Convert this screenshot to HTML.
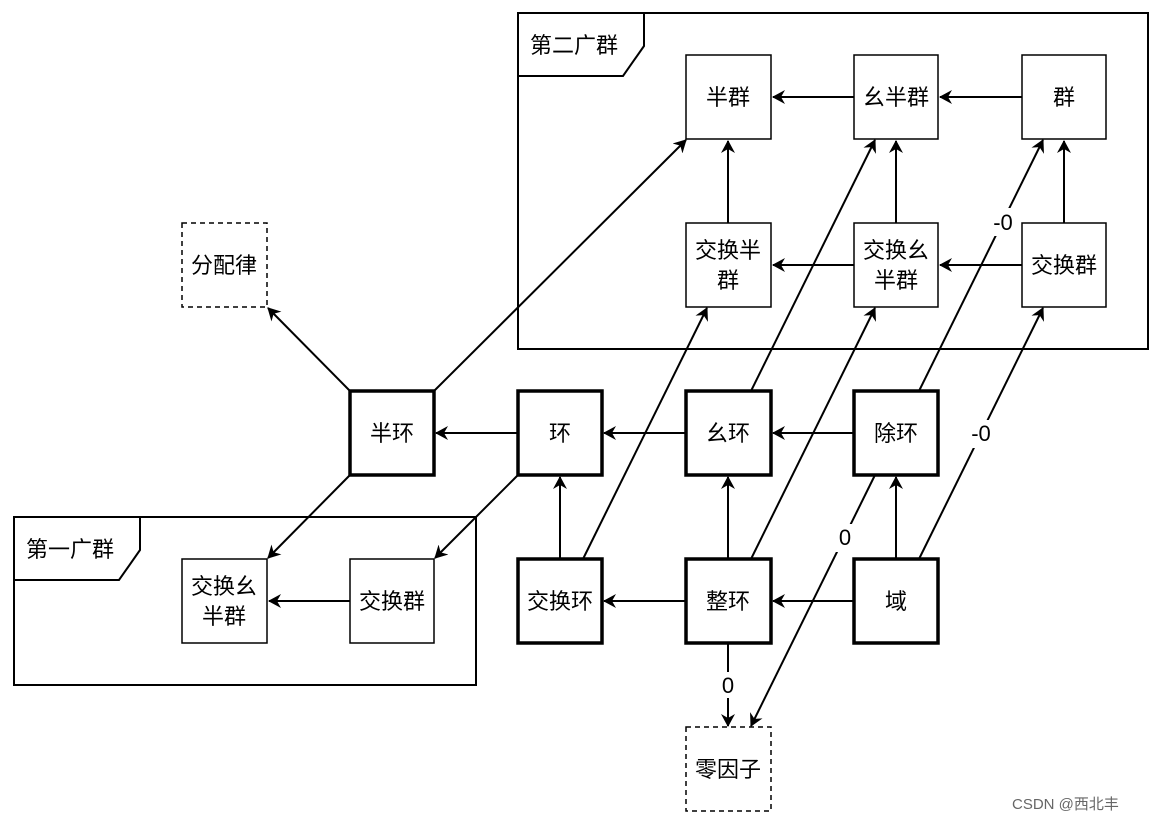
<!DOCTYPE html>
<html><head><meta charset="utf-8"><style>
body{margin:0;background:#fff}
text{font-family:"Liberation Sans","Noto Sans CJK SC",sans-serif;font-size:22px;fill:#000}
</style></head><body>
<svg width="1159" height="821" xmlns="http://www.w3.org/2000/svg">
<defs><marker id="a" markerWidth="14" markerHeight="14" refX="12" refY="7" orient="auto" markerUnits="userSpaceOnUse"><path d="M0,0 L13,7 L0,14 L4,7 Z" fill="#000"/></marker></defs>
<g fill="none" stroke="#000" stroke-width="2">
<rect x="518" y="13" width="630" height="336"/>
<path d="M518,76 L623,76 L644,46 L644,13"/>
<rect x="14" y="517" width="462" height="168"/>
<path d="M14,580 L119,580 L140,550 L140,517"/>
</g>
<g fill="#fff" stroke="#000" stroke-width="1.5">
<rect x="686" y="55" width="85" height="84"/>
<rect x="854" y="55" width="84" height="84"/>
<rect x="1022" y="55" width="84" height="84"/>
<rect x="686" y="223" width="85" height="84"/>
<rect x="854" y="223" width="84" height="84"/>
<rect x="1022" y="223" width="84" height="84"/>
<rect x="182" y="559" width="85" height="84"/>
<rect x="350" y="559" width="84" height="84"/>
<rect x="182" y="223" width="85" height="84" stroke-dasharray="5,4"/>
<rect x="686" y="727" width="85" height="84" stroke-dasharray="5,4"/>
</g>
<g fill="#fff" stroke="#000" stroke-width="3.5">
<rect x="350" y="391" width="84" height="84"/>
<rect x="518" y="391" width="84" height="84"/>
<rect x="686" y="391" width="85" height="84"/>
<rect x="854" y="391" width="84" height="84"/>
<rect x="518" y="559" width="84" height="84"/>
<rect x="686" y="559" width="85" height="84"/>
<rect x="854" y="559" width="84" height="84"/>
</g>
<g stroke="#000" stroke-width="2" fill="none" marker-end="url(#a)">
<line x1="854" y1="97" x2="773" y2="97"/>
<line x1="1022" y1="97" x2="940" y2="97"/>
<line x1="854" y1="265" x2="773" y2="265"/>
<line x1="1022" y1="265" x2="940" y2="265"/>
<line x1="728" y1="223" x2="728" y2="141"/>
<line x1="896" y1="223" x2="896" y2="141"/>
<line x1="1064" y1="223" x2="1064" y2="141"/>
<line x1="350" y1="391" x2="268" y2="308"/>
<line x1="434" y1="391" x2="686" y2="140"/>
<line x1="350" y1="475" x2="268" y2="558"/>
<line x1="518" y1="475" x2="435" y2="558"/>
<line x1="518" y1="433" x2="436" y2="433"/>
<line x1="686" y1="433" x2="604" y2="433"/>
<line x1="854" y1="433" x2="773" y2="433"/>
<line x1="560" y1="559" x2="560" y2="477"/>
<line x1="728" y1="559" x2="728" y2="477"/>
<line x1="896" y1="559" x2="896" y2="477"/>
<line x1="854" y1="601" x2="773" y2="601"/>
<line x1="686" y1="601" x2="604" y2="601"/>
<line x1="350" y1="601" x2="269" y2="601"/>
<line x1="583" y1="559" x2="707" y2="308"/>
<line x1="751" y1="391" x2="875" y2="140"/>
<line x1="751" y1="559" x2="875" y2="308"/>
<line x1="919" y1="391" x2="1043" y2="140"/>
<line x1="919" y1="559" x2="1043" y2="308"/>
<line x1="728" y1="643" x2="728" y2="726"/>
<line x1="875" y1="475" x2="751" y2="726"/>
</g>
<g fill="#fff">
<rect x="716" y="672" width="24" height="26"/>
<rect x="834" y="524" width="22" height="28"/>
<rect x="988" y="208" width="30" height="28"/>
<rect x="966" y="420" width="30" height="28"/>
</g>
<g text-anchor="middle">
<text x="728" y="693">0</text>
<text x="845" y="545">0</text>
<text x="1003" y="230">-0</text>
<text x="981" y="441">-0</text>
<text x="728" y="105">半群</text>
<text x="896" y="105">幺半群</text>
<text x="1064" y="105">群</text>
<text x="728" y="258">交换半</text>
<text x="728" y="288">群</text>
<text x="896" y="258">交换幺</text>
<text x="896" y="288">半群</text>
<text x="1064" y="273">交换群</text>
<text x="224" y="273">分配律</text>
<text x="392" y="441">半环</text>
<text x="560" y="441">环</text>
<text x="728" y="441">幺环</text>
<text x="896" y="441">除环</text>
<text x="224" y="594">交换幺</text>
<text x="224" y="624">半群</text>
<text x="392" y="609">交换群</text>
<text x="560" y="609">交换环</text>
<text x="728" y="609">整环</text>
<text x="896" y="609">域</text>
<text x="728" y="777">零因子</text>
</g>
<text x="530" y="53">第二广群</text>
<text x="26" y="557">第一广群</text>
<text x="1012" y="809" style="font-size:15px;fill:#666">CSDN @西北丰</text>
</svg>
</body></html>
